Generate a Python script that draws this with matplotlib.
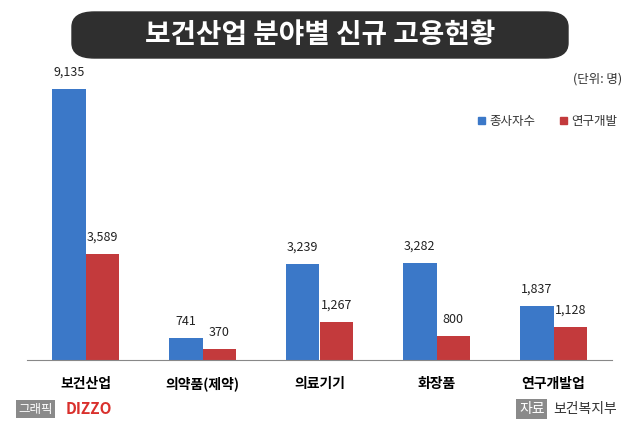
import matplotlib.pyplot as plt
from matplotlib.patches import FancyBboxPatch
import numpy as np

plt.rcParams['font.family'] = ['Noto Sans CJK KR', 'Noto Sans CJK JP', 'Noto Sans CJK SC', 'DejaVu Sans']

categories = ['보건산업', '의약품(제약)', '의료기기', '화장품', '연구개발업']
workers = [9135, 741, 3239, 3282, 1837]
rnd = [3589, 370, 1267, 800, 1128]

fig = plt.figure(figsize=(6.4, 4.25), dpi=100)
W, H = 640, 425

# axes: baseline y=360
ax = fig.add_axes([27 / W, 1 - 360 / H, 585 / W, 314 / H])
x = np.arange(len(categories))
bw = 0.285
b1 = ax.bar(x - bw / 2, workers, bw, color='#3b78c8')
b2 = ax.bar(x + bw / 2, rnd, bw, color='#c33a3c')
for bars, vals in ((b1, workers), (b2, rnd)):
    for b, v in zip(bars, vals):
        ax.text(b.get_x() + b.get_width() / 2, v + 350, f'{v:,}',
                ha='center', va='bottom', fontsize=9, color='#222222')
ax.set_ylim(0, 10600)
ax.set_xlim(-0.5, len(categories) - 0.5)
ax.set_yticks([])
ax.set_xticks(x)
ax.set_xticklabels(categories, fontsize=10, fontweight='bold')
ax.tick_params(axis='x', length=0, pad=12)
for s in ['top', 'right', 'left']:
    ax.spines[s].set_visible(False)
ax.spines['bottom'].set_color('#888888')

# title box
fig.patches.append(FancyBboxPatch((72 / W, 1 - 58 / H), 496 / W, 46 / H,
                                  boxstyle='round,pad=0,rounding_size=0.035',
                                  transform=fig.transFigure, color='#2f2f2f'))
fig.text(0.5, 1 - 35 / H, '보건산업 분야별 신규 고용현황', ha='center', va='center',
         fontsize=20, fontweight='bold', color='white')

fig.text(622 / W, 1 - 79 / H, '(단위: 명)', ha='right', va='center', fontsize=9, color='#333333')

# legend
fig.patches.append(plt.Rectangle((478 / W, 1 - 124 / H), 7 / W, 7 / H,
                                 transform=fig.transFigure, color='#3b78c8'))
fig.text(489 / W, 1 - 121 / H, '종사자수', va='center', fontsize=9, color='#333333')
fig.patches.append(plt.Rectangle((560 / W, 1 - 124 / H), 7 / W, 7 / H,
                                 transform=fig.transFigure, color='#c33a3c'))
fig.text(571 / W, 1 - 121 / H, '연구개발', va='center', fontsize=9, color='#333333')

# footer
fig.text(18 / W, 1 - 409 / H, '그래픽', va='center', fontsize=9, color='white',
         bbox=dict(boxstyle='square,pad=0.2', fc='#8a8a8a', ec='none'))
fig.text(66 / W, 1 - 409 / H, 'DIZZO', va='center', fontsize=11, fontweight='bold',
         color='#d9302c')
fig.text(519 / W, 1 - 409 / H, '자료', va='center', fontsize=10, color='white',
         bbox=dict(boxstyle='square,pad=0.2', fc='#8a8a8a', ec='none'))
fig.text(553 / W, 1 - 409 / H, '보건복지부', va='center', fontsize=10, color='#333333')

fig.savefig('out.png', dpi=100, facecolor='white')
